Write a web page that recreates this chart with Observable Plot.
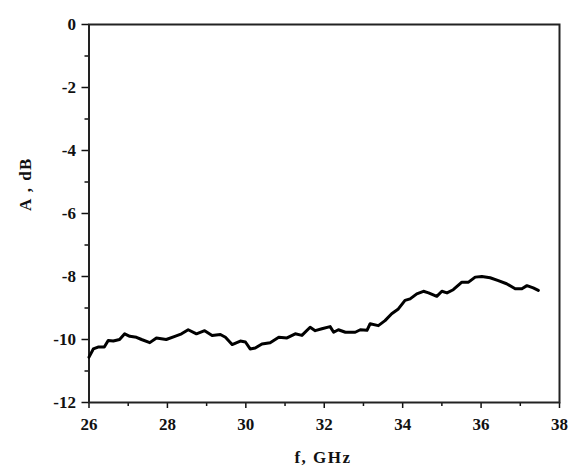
<!DOCTYPE html>
<html>
<head>
<meta charset="utf-8">
<script src="https://cdn.jsdelivr.net/npm/d3@7"></script>
<script src="https://cdn.jsdelivr.net/npm/@observablehq/plot@0.6"></script>
<style>
  html, body { margin: 0; padding: 0; background: #fff; }
  svg { display: block; }
  svg text { font-family: "Liberation Serif", serif !important; }
</style>
</head>
<body>
<div id="chart"></div>
<script>
// Frequency, GHz
const freq = [26.0, 26.11, 26.23, 26.39, 26.49, 26.62, 26.78, 26.91, 27.04, 27.21, 27.34, 27.55, 27.72, 27.97,
  28.19, 28.36, 28.53, 28.74, 28.95, 29.14, 29.35, 29.48, 29.65, 29.86, 29.99, 30.11, 30.24, 30.41, 30.62,
  30.84, 31.05, 31.26, 31.43, 31.64, 31.77, 31.94, 32.15, 32.24, 32.36, 32.54, 32.79, 32.92, 33.09, 33.17,
  33.38, 33.55, 33.72, 33.89, 34.06, 34.19, 34.36, 34.53, 34.66, 34.87, 35.0, 35.13, 35.29, 35.51, 35.68,
  35.85, 36.02, 36.23, 36.44, 36.65, 36.87, 37.04, 37.17, 37.33, 37.46];
// Attenuation, dB
const atten = [-10.56, -10.3, -10.24, -10.24, -10.03, -10.05, -10.0, -9.82, -9.9, -9.93, -10.0, -10.1, -9.95, -10.0,
  -9.9, -9.82, -9.69, -9.82, -9.72, -9.87, -9.84, -9.93, -10.16, -10.05, -10.08, -10.3, -10.27, -10.14, -10.1,
  -9.93, -9.95, -9.82, -9.87, -9.61, -9.72, -9.66, -9.59, -9.77, -9.69, -9.77, -9.77, -9.69, -9.71, -9.5,
  -9.56, -9.4, -9.18, -9.03, -8.76, -8.71, -8.55, -8.47, -8.52, -8.63, -8.47, -8.52, -8.42, -8.18, -8.18,
  -8.02, -8.0, -8.04, -8.13, -8.23, -8.39, -8.39, -8.29, -8.36, -8.44];
const xMajor = [26, 28, 30, 32, 34, 36, 38];
const xMinor = [27, 29, 31, 33, 35, 37];
const yMajor = [0, -2, -4, -6, -8, -10, -12];
const yMinor = [-1, -3, -5, -7, -9, -11];
const xLabel = "f, GHz";
const yLabel = "A , dB";

const data = freq.map((f, i) => ({f, a: atten[i]}));
const font = "Liberation Serif, serif";

const chart = Plot.plot({
  width: 572,
  height: 466,
  marginLeft: 88.5,
  marginRight: 13,
  marginTop: 24,
  marginBottom: 64,
  style: {fontFamily: font, fontSize: "17px", fontWeight: "bold", color: "#111", background: "#fff"},
  x: {domain: [26, 38]},
  y: {domain: [-12, 0]},
  marks: [
    Plot.axisX(xMajor, {tickSize: 6, tickPadding: 9, label: null, stroke: "#111", strokeWidth: 1.5}),
    Plot.axisX(xMinor, {tickSize: 4, text: null, label: null, stroke: "#111", strokeWidth: 1.5}),
    Plot.axisY(yMajor, {tickSize: 7, tickPadding: 6, label: null, stroke: "#111", strokeWidth: 1.5, tickFormat: d => String(d)}),
    Plot.axisY(yMinor, {tickSize: 4, text: null, label: null, stroke: "#111", strokeWidth: 1.5}),
    Plot.frame({stroke: "#222", strokeWidth: 2}),
    Plot.line(data, {x: "f", y: "a", stroke: "#000", strokeWidth: 3, strokeLinejoin: "round"})
  ]
});

const svg = d3.select(chart);
svg.append("text")
  .attr("x", 323)
  .attr("y", 463)
  .attr("text-anchor", "middle")
  .attr("font-size", 17)
  .attr("font-weight", "bold")
  .attr("letter-spacing", "1.5px")
  .attr("fill", "#111")
  .text(xLabel);
svg.append("text")
  .attr("transform", "translate(31,184) rotate(-90)")
  .attr("text-anchor", "middle")
  .attr("font-size", 17)
  .attr("font-weight", "bold")
  .attr("letter-spacing", "1.5px")
  .attr("fill", "#111")
  .text(yLabel);

document.getElementById("chart").appendChild(chart);
</script>
</body>
</html>
